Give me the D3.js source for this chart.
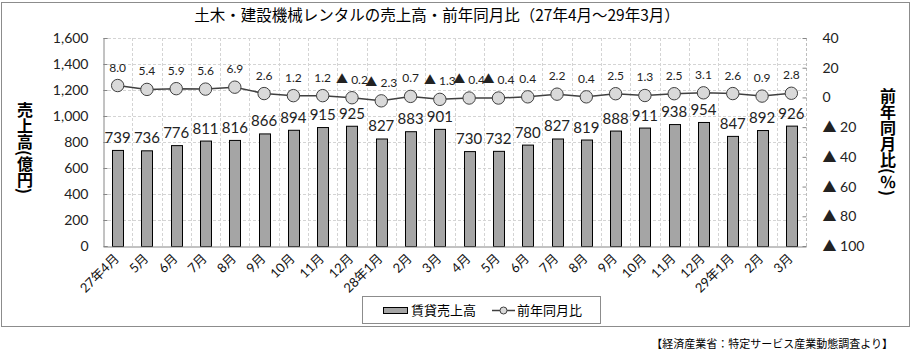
<!DOCTYPE html>
<html><head><meta charset="utf-8">
<script src="https://cdn.jsdelivr.net/npm/d3@7"></script>
<style>
body{margin:0;background:#fff;}
svg{display:block;}
</style></head>
<body>
<svg id="chart" width="915" height="359"></svg>
<script>
const categories = ["27年4月","5月","6月","7月","8月","9月","10月","11月","12月","28年1月","2月","3月","4月","5月","6月","7月","8月","9月","10月","11月","12月","29年1月","2月","3月"];
const sales = [739,736,776,811,816,866,894,915,925,827,883,901,730,732,780,827,819,888,911,938,954,847,892,926];
const yoy = [8.0,5.4,5.9,5.6,6.9,2.6,1.2,1.2,-0.2,-2.3,0.7,-1.3,-0.4,-0.4,0.4,2.2,0.4,2.5,1.3,2.5,3.1,2.6,0.9,2.8];
const leftTicks = [0,200,400,600,800,1000,1200,1400,1600];
const rightTicks = [40,20,0,-20,-40,-60,-80,-100];
const title = "土木・建設機械レンタルの売上高・前年同月比（27年4月～29年3月）";
const leftTitle = "売上高(億円)";
const rightTitle = "前年同月比(％)";
const legendLabels = ["賃貸売上高","前年同月比"];
const source = "【経済産業省：特定サービス産業動態調査より】";

const svg = d3.select("#chart");
const numFont = "Lato, 'Noto Sans CJK JP', sans-serif";
const jpFont = "'Noto Sans CJK JP', sans-serif";
const m = {left:103, right:806, top:38, bottom:246};

// outer frame
svg.append("rect").attr("x",1.5).attr("y",2.5).attr("width",908).attr("height",324)
  .attr("fill","none").attr("stroke","#8c8c8c");

const idx = d3.range(categories.length);
const x = d3.scaleBand().domain(idx).range([m.left,m.right]);
const cx = i => x(i)+x.bandwidth()/2;
const yL = d3.scaleLinear().domain([0,1600]).range([m.bottom,m.top]);
const yR = d3.scaleLinear().domain([-100,40]).range([m.bottom,m.top]);

const fmt = d3.format(",");
const tri = v => v < 0 ? "▲ " + Math.abs(v) : String(v);
const triF = v => v < 0 ? "▲ " + Math.abs(v).toFixed(1) : v.toFixed(1);

// grid
const grid = svg.append("g");
leftTicks.filter(t=>t>0).forEach(t=>{
  grid.append("line").attr("x1",m.left).attr("x2",m.right).attr("y1",yL(t)+0.5).attr("y2",yL(t)+0.5)
    .attr("stroke","#d4d4d4").attr("stroke-dasharray","3,2");
});
idx.forEach(i=>{
  if(i===0) return;
  const xx = Math.round(x(i))+0.5;
  grid.append("line").attr("x1",xx).attr("x2",xx).attr("y1",m.top).attr("y2",m.bottom)
    .attr("stroke","#d4d4d4").attr("stroke-dasharray","3,2");
});
grid.append("line").attr("x1",m.right+0.5).attr("x2",m.right+0.5).attr("y1",m.top).attr("y2",m.bottom)
  .attr("stroke","#bdbdbd").attr("stroke-dasharray","3,2");

// bars
const bw = 11;
svg.append("g").selectAll("rect").data(sales).join("rect")
  .attr("x",(d,i)=>Math.round(cx(i)-bw/2)+0.5)
  .attr("y",d=>yL(d)+0.5)
  .attr("width",bw).attr("height",d=>m.bottom-yL(d))
  .attr("fill","#a5a5a5").attr("stroke","#000").attr("stroke-width",1);

// axes
const axL = d3.axisLeft(yL).tickValues(leftTicks).tickSize(-4).tickPadding(15).tickFormat(fmt);
const gL = svg.append("g").attr("transform",`translate(${m.left+0.5},0)`).call(axL);
gL.select(".domain").attr("stroke","#868686");
gL.selectAll(".tick line").attr("stroke","#868686");
gL.selectAll("text").attr("font-family",numFont).attr("font-size",14).attr("fill","#222");

const axR = d3.axisRight(yR).tickValues(rightTicks).tickSize(-4).tickPadding(16).tickFormat(tri);
const gR = svg.append("g").attr("transform",`translate(${m.right+0.5},0)`).call(axR);
gR.select(".domain").remove();
gR.selectAll(".tick line").attr("stroke","#868686");
gR.selectAll("text").attr("font-family",numFont).attr("font-size",14).attr("fill","#222");

const axB = d3.axisBottom(x).tickSize(0).tickFormat("");
const gB = svg.append("g").attr("transform",`translate(0,${m.bottom+0.5})`).call(axB);
gB.select(".domain").attr("stroke","#868686");

// x labels
svg.append("g").selectAll("text").data(categories).join("text")
  .attr("transform",(d,i)=>`translate(${cx(i)-1},${m.bottom+10}) rotate(-45)`)
  .attr("text-anchor","end").attr("dy","0.35em")
  .attr("font-family",numFont).attr("font-size",13).attr("fill","#111")
  .text(d=>d);

// bar labels
svg.append("g").selectAll("text").data(sales).join("text")
  .attr("x",(d,i)=>cx(i))
  .attr("y",d=>yL(d)-7)
  .attr("text-anchor","middle").attr("font-family",numFont).attr("font-size",15).attr("fill","#222")
  .text(d=>d);

// line
const line = d3.line().x((d,i)=>cx(i)).y(d=>yR(d));
svg.append("path").datum(yoy).attr("d",line).attr("fill","none").attr("stroke","#404040").attr("stroke-width",1.5);
svg.append("g").selectAll("circle").data(yoy).join("circle")
  .attr("cx",(d,i)=>cx(i)).attr("cy",d=>yR(d)).attr("r",6.2)
  .attr("fill","#d9d9d9").attr("stroke","#404040").attr("stroke-width",1);
svg.append("g").selectAll("text").data(yoy).join("text")
  .attr("x",(d,i)=>cx(i))
  .attr("y",d=>yR(d)-14)
  .attr("text-anchor","middle").attr("font-family",numFont).attr("font-size",12).attr("fill","#222")
  .text(d=>triF(d));

// title
svg.append("text").attr("x",437).attr("y",21).attr("text-anchor","middle")
  .attr("font-family",jpFont).attr("font-size",15.5).attr("fill","#000").text(title);

// axis titles (vertical)
svg.append("text").attr("x",25).attr("y",102)
  .attr("style","writing-mode:vertical-rl;")
  .attr("font-family",jpFont).attr("font-size",16).attr("font-weight","bold").attr("fill","#000")
  .text(leftTitle);
svg.append("text").attr("x",888).attr("y",88)
  .attr("style","writing-mode:vertical-rl;")
  .attr("font-family",jpFont).attr("font-size",16).attr("font-weight","bold").attr("fill","#000")
  .text(rightTitle);

// legend
const lg = svg.append("g");
lg.append("rect").attr("x",362.5).attr("y",296.5).attr("width",238).attr("height",27)
  .attr("fill","#fff").attr("stroke","#8c8c8c");
lg.append("rect").attr("x",383.5).attr("y",307.5).attr("width",24).attr("height",6)
  .attr("fill","#a5a5a5").attr("stroke","#000");
lg.append("text").attr("x",411).attr("y",315).attr("font-family",jpFont).attr("font-size",13).attr("fill","#000").text(legendLabels[0]);
lg.append("line").attr("x1",492).attr("x2",515).attr("y1",310.5).attr("y2",310.5).attr("stroke","#404040").attr("stroke-width",1.5);
lg.append("circle").attr("cx",503.5).attr("cy",310.5).attr("r",3.5).attr("fill","#d9d9d9").attr("stroke","#404040");
lg.append("text").attr("x",517).attr("y",315).attr("font-family",jpFont).attr("font-size",13).attr("fill","#000").text(legendLabels[1]);

// source
svg.append("text").attr("x",893).attr("y",348).attr("text-anchor","end")
  .attr("font-family",jpFont).attr("font-size",11).attr("fill","#000").text(source);
</script>
</body></html>
